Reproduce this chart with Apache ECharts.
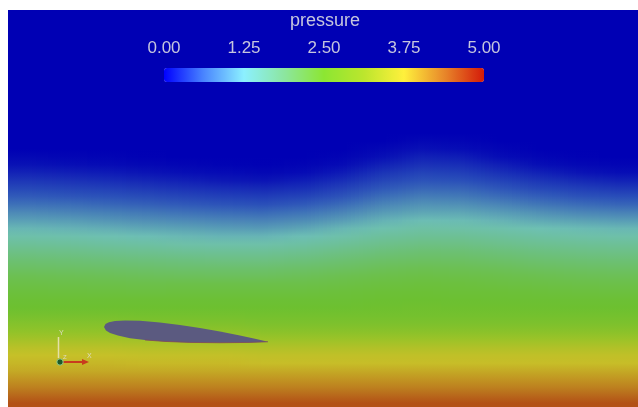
<!DOCTYPE html>
<html><head><meta charset="utf-8">
<script src="https://cdn.jsdelivr.net/npm/echarts@6/dist/echarts.min.js"></script>
<style>html,body{margin:0;padding:0;background:#fff;}#c{width:638px;height:407px;}</style>
</head><body><div id="c"></div>
<script>
// ---- data ----
const columnIds = ['0','1','2','3','4','5','6','7','8','9','10','11','12','13','14','15'];
const rowIds = Array.from({length:50}, (_, i) => String(i));
const pressureRows = [
[0,0,0,0,0,0,0,0,0,0,0,0,0,0,0,0],
[0,0,0,0,0,0,0,0,0,0,0,0,0,0,0,0],
[0,0,0,0,0,0,0,0,0,0,0,0,0,0,0,0],
[0,0,0,0,0,0,0,0,0,0,0,0,0,0,0,0],
[0,0,0,0,0,0,0,0,0,0,0,0,0,0,0,0],
[0,0,0,0,0,0,0,0,0,0,0,0,0,0,0,0],
[0,0,0,0,0,0,0,0,0,0,0,0,0,0,0,0],
[0,0,0,0,0,0,0,0,0,0,0,0,0,0,0,0],
[0,0,0,0,0,0,0,0,0,0,0,0,0,0,0,0],
[0,0,0,0,0,0,0,0,0,0,0,0,0,0,0,0],
[0,0,0,0,0,0,0,0,0,0,0,0,0,0,0,0],
[0,0,0,0,0,0,0,0,0,0,0,0,0,0,0,0],
[0,0,0,0,0,0,0,0,0,0,0,0,0,0,0,0],
[0,0,0,0,0,0,0,0,0,0,0,0,0,0,0,0],
[0,0,0,0,0,0,0,0,0,0,0,0,0,0,0,0],
[0,0,0,0,0,0,0,0,0,0,0,0,0,0,0,0],
[0,0,0,0,0,0,0,0,0,0,0.05,0.04,0,0,0,0],
[0,0,0,0,0,0,0,0,0,0.05,0.12,0.09,0.04,0,0,0],
[0.06,0.04,0.03,0.01,0,0,0,0,0.03,0.11,0.24,0.21,0.09,0.04,0.01,0],
[0.13,0.10,0.08,0.06,0.04,0.02,0.01,0.03,0.08,0.24,0.36,0.34,0.22,0.10,0.06,0.04],
[0.26,0.23,0.20,0.15,0.10,0.08,0.06,0.08,0.20,0.38,0.49,0.46,0.35,0.24,0.15,0.10],
[0.40,0.37,0.33,0.28,0.23,0.18,0.15,0.21,0.34,0.51,0.61,0.59,0.49,0.39,0.31,0.25],
[0.53,0.50,0.47,0.42,0.37,0.33,0.30,0.35,0.48,0.64,0.73,0.72,0.63,0.53,0.46,0.41],
[0.66,0.63,0.60,0.56,0.51,0.47,0.45,0.50,0.62,0.77,0.86,0.84,0.76,0.68,0.61,0.57],
[0.79,0.77,0.73,0.69,0.65,0.61,0.59,0.65,0.76,0.90,0.98,0.97,0.90,0.82,0.76,0.72],
[0.93,0.90,0.87,0.83,0.79,0.76,0.74,0.80,0.90,1.03,1.10,1.10,1.04,0.97,0.91,0.88],
[1.06,1.04,1.00,0.96,0.93,0.90,0.89,0.94,1.04,1.16,1.23,1.22,1.17,1.11,1.07,1.04],
[1.19,1.17,1.14,1.10,1.07,1.04,1.03,1.09,1.19,1.30,1.38,1.37,1.32,1.26,1.22,1.20],
[1.34,1.32,1.28,1.24,1.20,1.18,1.18,1.24,1.34,1.46,1.53,1.53,1.47,1.41,1.37,1.35],
[1.50,1.48,1.44,1.41,1.36,1.35,1.35,1.41,1.51,1.62,1.69,1.68,1.62,1.56,1.53,1.51],
[1.67,1.65,1.61,1.58,1.54,1.53,1.53,1.59,1.68,1.78,1.85,1.84,1.78,1.72,1.68,1.66],
[1.83,1.81,1.78,1.75,1.72,1.70,1.70,1.76,1.84,1.94,2.00,1.99,1.93,1.87,1.83,1.81],
[1.99,1.97,1.95,1.92,1.89,1.89,1.89,1.94,2.01,2.10,2.16,2.14,2.09,2.03,1.99,1.97],
[2.16,2.14,2.12,2.09,2.07,2.06,2.06,2.11,2.18,2.24,2.28,2.26,2.23,2.18,2.14,2.12],
[2.27,2.26,2.25,2.24,2.25,2.25,2.25,2.25,2.29,2.34,2.37,2.36,2.32,2.29,2.26,2.25],
[2.37,2.36,2.35,2.34,2.35,2.35,2.35,2.35,2.39,2.42,2.44,2.42,2.42,2.39,2.36,2.35],
[2.45,2.45,2.45,2.45,2.45,2.45,2.45,2.45,2.45,2.48,2.49,2.48,2.47,2.46,2.45,2.45],
[2.52,2.52,2.52,2.52,2.52,2.52,2.52,2.52,2.52,2.55,2.56,2.55,2.54,2.53,2.52,2.52],
[2.66,2.66,2.66,2.64,2.64,2.64,2.62,2.62,2.62,2.62,2.62,2.62,2.62,2.62,2.62,2.62],
[2.85,2.85,2.85,2.80,2.80,2.80,2.75,2.75,2.75,2.75,2.75,2.75,2.75,2.75,2.75,2.75],
[3.05,3.05,3.05,3.00,3.00,3.00,2.95,2.95,2.95,2.95,2.95,2.95,2.95,2.95,2.95,2.95],
[3.30,3.30,3.30,3.25,3.25,3.25,3.20,3.20,3.20,3.20,3.20,3.20,3.20,3.20,3.20,3.20],
[3.55,3.55,3.55,3.50,3.50,3.50,3.45,3.45,3.45,3.45,3.45,3.45,3.45,3.45,3.45,3.45],
[3.73,3.73,3.73,3.69,3.69,3.69,3.65,3.65,3.65,3.65,3.65,3.65,3.65,3.65,3.65,3.65],
[3.84,3.84,3.84,3.81,3.81,3.81,3.78,3.78,3.78,3.78,3.78,3.78,3.78,3.78,3.78,3.78],
[3.95,3.95,3.95,3.95,3.95,3.95,3.95,3.95,3.95,3.95,3.95,3.95,3.95,3.95,3.95,3.95],
[4.12,4.12,4.12,4.12,4.12,4.12,4.12,4.12,4.12,4.12,4.12,4.12,4.12,4.12,4.12,4.12],
[4.30,4.30,4.30,4.30,4.30,4.30,4.30,4.30,4.30,4.30,4.30,4.30,4.30,4.30,4.30,4.30],
[4.50,4.50,4.50,4.50,4.50,4.50,4.50,4.50,4.50,4.50,4.50,4.50,4.50,4.50,4.50,4.50],
[4.70,4.70,4.70,4.70,4.70,4.70,4.70,4.70,4.70,4.70,4.70,4.70,4.70,4.70,4.70,4.70]
];
const colorbarTicks = [0, 1.25, 2.5, 3.75, 5];
const airfoilUpperX = [0, 0.009, 0.030, 0.067, 0.128, 0.220, 0.341, 0.463, 0.585, 0.707, 0.829, 0.921, 1.0];
const airfoilUpperY = [0, 0.018, 0.029, 0.037, 0.040, 0.038, 0.027, 0.012, -0.006, -0.027, -0.052, -0.072, -0.090];
const airfoilLowerX = [0.890, 0.707, 0.524, 0.372, 0.250, 0.159, 0.085, 0.037, 0.012];
const airfoilLowerY = [-0.094, -0.096, -0.094, -0.088, -0.079, -0.068, -0.052, -0.037, -0.021];

// ---- chart ----
const fieldStops = ['#0000b4', '#2d55b9', '#6ec0b4', '#6cc06e', '#6cc030', '#96c328', '#c8c028', '#bc781e', '#aa2d0f'];
const barStops = ['#0000ff', '#4a86ff', '#8cf0ff', '#8ce6a0', '#8ce632', '#bce62d', '#fff03c', '#e8882a', '#d41a0a'];
const vmin = colorbarTicks[0], vmax = colorbarTicks[colorbarTicks.length - 1];
const fieldColor = v => echarts.color.lerp(Math.max(0, Math.min(1, (v - vmin) / (vmax - vmin))), fieldStops);
const nodeColors = pressureRows.map(row => row.map(fieldColor));
const nC = columnIds.length, nR = rowIds.length;

const cellData = [];
pressureRows.forEach((row, r) => row.forEach((v, c) => cellData.push([c, r, v])));

function renderCell(params, api) {
  const c = api.value(0), r = api.value(1);
  const c1 = Math.min(c + 1, nC - 1), r1 = Math.min(r + 1, nR - 1);
  const xs = c === 0 ? -0.5 : c, xe = c === nC - 1 ? nC - 0.5 : c + 1;
  const ys = r === 0 ? -0.5 : r, ye = r === nR - 1 ? nR - 0.5 : r + 1;
  const p0 = api.coord([xs, ys]), p1 = api.coord([xe, ye]);
  const gTop = api.coord([c, r])[1], gBot = api.coord([c, r + 1])[1];
  const pxA = api.coord([c, r])[0], pxB = api.coord([c + 1, r])[0];
  const left = Math.round(p0[0]), right = Math.round(p1[0]);
  const top = Math.round(Math.min(p0[1], p1[1])), bottom = Math.round(Math.max(p0[1], p1[1]));
  const children = [];
  const step = 4;
  for (let x = left; x < right; x += step) {
    const w = Math.min(step, right - x);
    const t = Math.max(0, Math.min(1, (x + w / 2 - pxA) / (pxB - pxA)));
    const topCol = echarts.color.lerp(t, [nodeColors[r][c], nodeColors[r][c1]]);
    const botCol = echarts.color.lerp(t, [nodeColors[r1][c], nodeColors[r1][c1]]);
    children.push({
      type: 'rect',
      shape: {x: x, y: top, width: w + 0.4, height: bottom - top + 0.4},
      style: {fill: new echarts.graphic.LinearGradient(0, gTop, 0, gBot,
        [{offset: 0, color: topCol}, {offset: 1, color: botCol}], true)}
    });
  }
  return {type: 'group', children: children};
}

const labelColor = '#c6c6de';
const font = '"Liberation Sans", Arial, sans-serif';
const chart = echarts.init(document.getElementById('c'), null, {renderer: 'canvas'});
chart.setOption({
  animation: false,
  backgroundColor: '#ffffff',
  title: {
    text: 'pressure', left: 290, top: 12, padding: 0, z: 20,
    textStyle: {color: labelColor, fontSize: 18, fontWeight: 'normal', fontFamily: font}
  },
  grid: [
    {left: 8, top: 10, width: 640, height: 400},
    {left: 8, top: 10, right: 0, bottom: 0},
    {left: 164, top: 31, width: 320, height: 1}
  ],
  xAxis: [
    {type: 'value', gridIndex: 0, min: -0.5, max: nC - 0.5, show: false},
    {type: 'value', gridIndex: 1, min: -0.5854, max: 3.2561, show: false},
    {type: 'value', gridIndex: 2, min: vmin, max: vmax, interval: 1.25, z: 20,
     axisLine: {show: false}, axisTick: {show: false}, splitLine: {show: false},
     axisLabel: {margin: 8, color: labelColor, fontSize: 17, fontFamily: font,
                 showMinLabel: true, showMaxLabel: true,
                 formatter: v => v.toFixed(2)}}
  ],
  yAxis: [
    {type: 'value', gridIndex: 0, min: -0.5, max: nR - 0.5, inverse: true, show: false},
    {type: 'value', gridIndex: 1, min: -0.4878, max: 1.9329, show: false},
    {type: 'value', gridIndex: 2, min: 0, max: 1, show: false}
  ],
  visualMap: [
    {
      type: 'continuous', show: true, seriesIndex: 2, min: vmin, max: vmax,
      orient: 'horizontal', left: 164, top: 68, padding: 0, z: 20,
      itemWidth: 14, itemHeight: 320, calculable: false, hoverLink: false,
      inRange: {color: barStops}
    }
  ],
  series: [
    {
      type: 'custom', xAxisIndex: 0, yAxisIndex: 0, data: cellData,
      silent: true, progressive: 0, renderItem: renderCell, z: 1
    },
    {
      type: 'custom', xAxisIndex: 1, yAxisIndex: 1, data: [[0, 0]], silent: true, z: 5,
      renderItem: (params, api) => {
        const up = airfoilUpperX.map((x, i) => api.coord([x, airfoilUpperY[i]]));
        const lo = airfoilLowerX.map((x, i) => api.coord([x, airfoilLowerY[i]]));
        const te = up[up.length - 1];
        return {
          type: 'group',
          children: [
            {type: 'polygon', shape: {points: up.concat(lo)}, style: {fill: '#5b5a80'}},
            {type: 'polyline', shape: {points: [te].concat(lo.slice(0, 5))},
             style: {stroke: '#80485a', lineWidth: 0.8, fill: null}}
          ]
        };
      }
    },
    {type: 'scatter', xAxisIndex: 2, yAxisIndex: 2, data: [], silent: true}
  ],
  graphic: [
    {type: 'line', shape: {x1: 58.5, y1: 358, x2: 58.5, y2: 337}, style: {stroke: '#e4e0a8', lineWidth: 1.5}, z: 10},
    {type: 'line', shape: {x1: 63, y1: 362, x2: 84, y2: 362}, style: {stroke: '#c83c1e', lineWidth: 2}, z: 10},
    {type: 'polygon', shape: {points: [[82, 359], [89, 362], [82, 365]]}, style: {fill: '#c83c1e'}, z: 10},
    {type: 'circle', shape: {cx: 60, cy: 362, r: 3.2}, style: {fill: '#1e5a28', stroke: '#9ad08a', lineWidth: 1}, z: 11},
    {type: 'text', x: 59, y: 330, style: {text: 'Y', fill: '#dedcc0', fontSize: 7, fontFamily: font}, z: 10},
    {type: 'text', x: 87, y: 353, style: {text: 'X', fill: '#dedcc0', fontSize: 7, fontFamily: font}, z: 10},
    {type: 'text', x: 63, y: 354, style: {text: 'Z', fill: '#dedcc0', fontSize: 6, fontFamily: font}, z: 10}
  ]
});
</script></body></html>
